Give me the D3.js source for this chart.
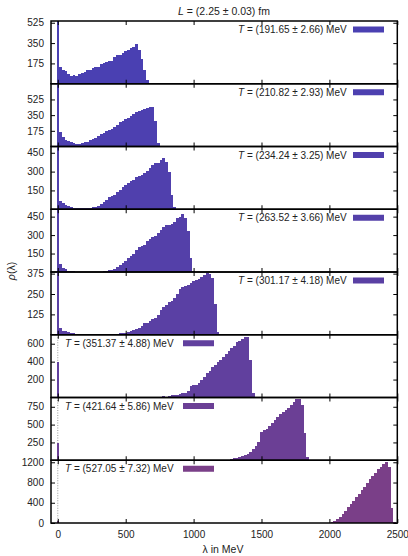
<!DOCTYPE html>
<meta charset="utf-8">
<style>
  body { margin: 0; background: #fff; }
  text { font-family: "Liberation Sans", Arial, sans-serif; fill: #222; }
</style>
<svg width="408" height="556"></svg>
<script src="https://cdn.jsdelivr.net/npm/d3@7/dist/d3.min.js"></script>
<script>

// histogram bin width in MeV (the bin at zero is narrower)
var binWidth = 20;
var zeroWidth = 12;

// temperatures of the eight panels
var tempValues = [191.65, 210.82, 234.24, 263.52, 301.17, 351.37, 421.64, 527.05];
var tempErrors = [2.66, 2.93, 3.25, 3.66, 4.18, 4.88, 5.86, 7.32];

// y axis top and tick labels of each panel
var yTop = [540, 700, 500, 510, 385, 700, 880, 1240];
var yTicks = [
	[175, 350, 525],
	[175, 350, 525],
	[150, 300, 450],
	[150, 300, 450],
	[125, 250, 375],
	[200, 400, 600],
	[250, 500, 750],
	[0, 400, 800, 1200]
];
var xTicks = [0, 500, 1000, 1500, 2000, 2500];

// height of the bin at lambda = 0
var zeroBin = [600, 800, 600, 600, 450, 400, 243, 45];
// lambda of the first bin of each histogram below
var histStart = [20, 20, 20, 20, 20, 780, 1260, 2000];

var rho1 = [140, 122, 108, 88, 70, 75, 70, 88, 92, 99, 115, 122, 135, 140, 140, 170, 181, 190, 198, 195,
	230, 245, 251, 262, 280, 290, 309, 320, 345, 290, 215, 120, 30];
var rho2 = [160, 110, 72, 59, 45, 40, 33, 33, 35, 48, 55, 70, 85, 96, 120, 140, 151, 169, 180, 190,
	217, 245, 270, 290, 310, 316, 335, 360, 385, 398, 405, 423, 430, 436, 438, 290, 35];
var rho3 = [68, 50, 30, 24, 16, 12, 10, 10, 10, 10, 10, 10, 18, 21, 28, 45, 55, 72, 100, 105,
	116, 140, 155, 175, 190, 207, 225, 235, 259, 268, 272, 290, 305, 330, 350, 365, 372, 390, 406, 380,
	300, 110, 15];
var rho4 = [65, 35, 22, 12, 5, 5, 4, 3, 0, 0, 0, 2, 4, 4, 3, 4, 5, 8, 13, 19,
	28, 40, 55, 75, 90, 113, 126, 150, 175, 200, 210, 222, 255, 268, 285, 295, 320, 345, 367, 385,
	385, 390, 410, 438, 450, 472, 440, 330, 110, 5];
var rho5 = [40, 25, 20, 16, 13, 12, 5, 4, 2, 0, 0, 0, 0, 3, 6, 0, 0, 2, 6, 5,
	4, 7, 8, 10, 13, 16, 22, 28, 35, 41, 52, 70, 75, 85, 98, 105, 122, 150, 170, 185,
	201, 208, 225, 250, 280, 293, 299, 305, 315, 330, 336, 340, 352, 365, 378, 375, 350, 190, 15];
var rho6 = [15, 10, 22, 26, 28, 32, 37, 45, 55, 67, 125, 135, 145, 165, 196, 230, 270, 300, 344, 363,
	395, 420, 450, 480, 515, 548, 580, 615, 630, 650, 670, 680, 420, 50];
var rho7 = [9, 12, 28, 38, 42, 55, 70, 90, 120, 160, 200, 260, 390, 420, 440, 480, 520, 560, 600, 650,
	680, 700, 730, 780, 811, 855, 865, 780, 380, 40];
var rho8 = [5, 20, 45, 80, 110, 170, 240, 310, 370, 440, 510, 580, 650, 720, 790, 860, 920, 990, 1060, 1110,
	1160, 1210, 1100, 300, 20];
var histograms = [rho1, rho2, rho3, rho4, rho5, rho6, rho7, rho8];

var svg = d3.select("svg");

var plotLeft = 51, plotRight = 397.3, plotTop = 21, plotBottom = 523;
var panelH = (plotBottom - plotTop) / histograms.length;

var x = d3.scaleLinear().domain([-50, 2500]).range([plotLeft, plotRight]);
// bar colour goes from blue to purple with the temperature
var colour = d3.scaleLinear()
	.domain([tempValues[0], tempValues[tempValues.length - 1]])
	.range(["#4a40b2", "#7a3f88"]);

histograms.forEach(function(h, i){
	var y0 = plotTop + i * panelH;
	var y = d3.scaleLinear().domain([0, yTop[i]]).range([y0 + panelH, y0]).clamp(true);

	var bins = [{lam: 0, v: zeroBin[i], w: zeroWidth}].concat(h.map(function(v, j){
		return {lam: histStart[i] + j * binWidth, v: v, w: binWidth};
	}));

	var g = svg.append("g");

	// dotted line at lambda = 0
	g.append("line")
		.attr("x1", x(0)).attr("x2", x(0))
		.attr("y1", y0).attr("y2", y0 + panelH)
		.attr("stroke", "#999")
		.attr("stroke-dasharray", "1,1.5");

	g.selectAll("rect.bin")
		.data(bins)
		.enter().append("rect")
		.attr("class", "bin")
		.attr("x", function(d){ return x(d.lam - d.w / 2); })
		.attr("width", function(d){ return x(d.w) - x(0); })
		.attr("y", function(d){ return y(d.v); })
		.attr("height", function(d){ return y(0) - y(d.v); })
		.attr("fill", colour(tempValues[i]))
		.attr("shape-rendering", "crispEdges");

	// ticks on all four sides, pointing inwards
	var bottomAxis = d3.axisBottom(x).tickValues(xTicks).tickSizeInner(-4).tickSizeOuter(0)
		.tickPadding(8).tickFormat(d3.format("d"));
	if (i < histograms.length - 1) bottomAxis.tickFormat("");
	g.append("g").attr("transform", "translate(0," + (y0 + panelH) + ")").call(bottomAxis);
	g.append("g").attr("transform", "translate(0," + y0 + ")")
		.call(d3.axisTop(x).tickValues(xTicks).tickSizeInner(-4).tickSizeOuter(0).tickFormat(""));
	g.append("g").attr("transform", "translate(" + plotLeft + ",0)")
		.call(d3.axisLeft(y).tickValues(yTicks[i]).tickSizeInner(-4).tickSizeOuter(0)
			.tickPadding(7).tickFormat(d3.format("d")));
	g.append("g").attr("transform", "translate(" + plotRight + ",0)")
		.call(d3.axisRight(y).tickValues(yTicks[i]).tickSizeInner(-4).tickSizeOuter(0).tickFormat(""));

	g.selectAll(".domain").remove();
	g.selectAll(".tick line").attr("stroke", "#000");
	g.selectAll(".tick text").attr("font-size", 10).attr("font-family", null).attr("fill", "#222");

	// frame
	g.append("rect")
		.attr("x", plotLeft).attr("y", y0)
		.attr("width", plotRight - plotLeft).attr("height", panelH)
		.attr("fill", "none").attr("stroke", "#000").attr("stroke-width", 1.5);

	// legend, right side for the first five panels, left side after that
	var onLeft = i >= 5;
	var ly = y0 + 8.5;
	var label = g.append("text")
		.attr("x", onLeft ? 65 : 346.7)
		.attr("y", ly)
		.attr("dy", "0.35em")
		.attr("font-size", 10)
		.attr("text-anchor", onLeft ? "start" : "end");
	label.append("tspan").attr("font-style", "italic").text("T");
	label.append("tspan").text(" = (" + tempValues[i].toFixed(2) + " \u00b1 " + tempErrors[i].toFixed(2) + ") MeV");

	g.append("rect")
		.attr("x", onLeft ? 183 : 353)
		.attr("y", ly - 3)
		.attr("width", 31)
		.attr("height", 6)
		.attr("fill", colour(tempValues[i]));
});

// title and axis labels
var title = svg.append("text")
	.attr("x", 224).attr("y", 14.5)
	.attr("text-anchor", "middle")
	.attr("font-size", 10.5);
title.append("tspan").attr("font-style", "italic").text("L");
title.append("tspan").text(" = (2.25 \u00b1 0.03) fm");

var ylab = svg.append("text")
	.attr("transform", "translate(15,271) rotate(-90)")
	.attr("text-anchor", "middle")
	.attr("font-size", 10.5);
ylab.append("tspan").attr("font-style", "italic").text("\u03c1");
ylab.append("tspan").text("(\u03bb)");

svg.append("text")
	.attr("x", 223).attr("y", 553)
	.attr("text-anchor", "middle")
	.attr("font-size", 10.5)
	.text("\u03bb in MeV");

</script>
